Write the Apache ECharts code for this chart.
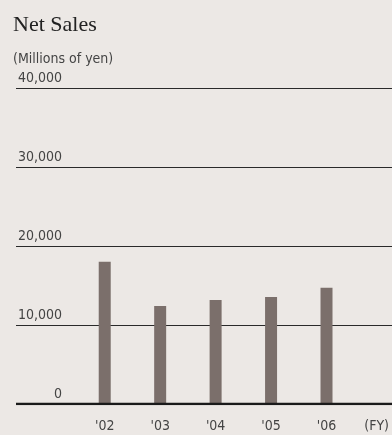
<!DOCTYPE html>
<html>
<head>
<meta charset="utf-8">
<style>
  html, body { margin: 0; padding: 0; background: #ece8e5; }
  #chart { width: 392px; height: 435px; }
</style>
<script src="https://cdn.jsdelivr.net/npm/echarts@6/dist/echarts.min.js"></script>
</head>
<body>
<div id="chart"></div>
<script>
// Net sales by fiscal year, millions of yen
const years = ["'02", "'03", "'04", "'05", "'06"];
const netSales = [18000, 12400, 13150, 13550, 14700];
const yTicks = [0, 10000, 20000, 30000, 40000];

const font = '"DejaVu Sans Condensed", "Roboto", sans-serif';
const chart = echarts.init(document.getElementById('chart'));

chart.setOption({
  backgroundColor: '#ece8e5',
  animation: false,
  title: [
    {
      text: 'Net Sales',
      left: 8, top: 9,
      textStyle: { fontFamily: '"Liberation Serif", serif', fontSize: 22, fontWeight: 'normal', color: '#222' }
    },
    {
      text: '(Millions of yen)',
      left: 8, top: 47,
      textStyle: { fontFamily: font, fontSize: 14, fontWeight: 'normal', color: '#444' }
    }
  ],
  grid: [
    // value grid: horizontal rules across the full width
    { left: 16, right: 0, top: 88, bottom: 31 },
    // category grid holding the bars
    { left: 77, width: 280, top: 88, bottom: 31 }
  ],
  xAxis: [
    {
      gridIndex: 0, type: 'value', min: 0, max: 1,
      axisLine: { show: false }, axisTick: { show: false },
      axisLabel: { show: false }, splitLine: { show: false }
    },
    {
      gridIndex: 1, type: 'category', data: years,
      name: '(FY)', nameLocation: 'end', nameGap: 10,
      nameTextStyle: { fontFamily: font, fontSize: 14, color: '#444', align: 'left', verticalAlign: 'top', padding: [15, 0, 0, 0] },
      axisLine: { show: false }, axisTick: { show: false },
      axisLabel: { fontFamily: font, fontSize: 14, color: '#444', margin: 15 }
    }
  ],
  yAxis: [
    {
      gridIndex: 0, type: 'value', min: yTicks[0], max: yTicks[yTicks.length - 1], interval: 10000,
      axisLine: { show: false }, axisTick: { show: false },
      axisLabel: {
        inside: true, margin: 46, align: 'right', verticalAlign: 'bottom',
        padding: [0, 0, 3, 0],
        fontFamily: font, fontSize: 14, color: '#444',
        formatter: v => v.toLocaleString('en-US')
      },
      splitLine: {
        lineStyle: { color: '#2a2a2a', width: 1 }
      }
    },
    {
      gridIndex: 1, type: 'value', min: yTicks[0], max: yTicks[yTicks.length - 1], interval: 10000,
      axisLine: { show: false }, axisTick: { show: false },
      axisLabel: { show: false }, splitLine: { show: false }
    }
  ],
  series: [
    {
      // heavier baseline at zero
      type: 'line', xAxisIndex: 0, yAxisIndex: 0,
      data: [[0, 0], [1, 0]], symbol: 'none', silent: true,
      lineStyle: { color: '#1a1a1a', width: 2.5 }, z: 5
    },
    {
      type: 'bar', xAxisIndex: 1, yAxisIndex: 1,
      data: netSales, barWidth: 12,
      itemStyle: { color: '#7b6f6b' }, z: 3
    }
  ]
});
</script>
</body>
</html>
